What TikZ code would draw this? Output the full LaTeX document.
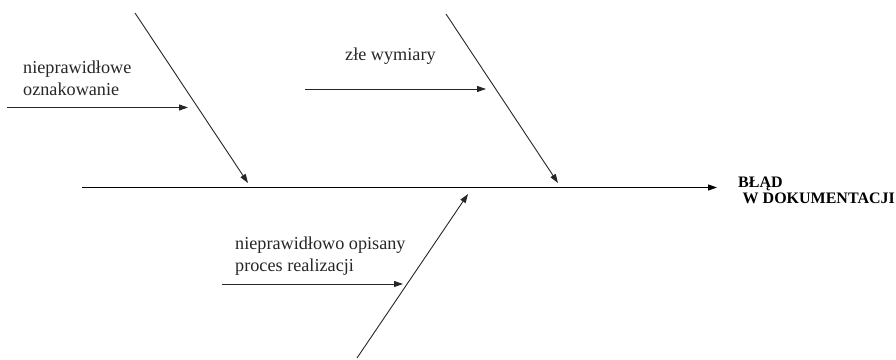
\documentclass[tikz,border=0pt]{standalone}
\usepackage{fontspec}
\setmainfont{Liberation Serif}
\usetikzlibrary{arrows.meta}
\begin{document}
\begin{tikzpicture}[x=1pt,y=-1pt,
  bone/.style={draw=black!85,line width=0.9pt,-{Triangle[length=9pt,width=6pt]}},
  spine/.style={draw=black,line width=1.1pt,-{Triangle[length=9pt,width=6pt]}},
  lbl/.style={anchor=base west,inner sep=0pt,font=\fontsize{18.2}{22}\selectfont,text=black!85,align=left},
  effect/.style={anchor=base west,inner sep=0pt,font=\bfseries\fontsize{16}{16}\selectfont,align=left}]
\useasboundingbox (0,0) rectangle (896,359);
% spine
\coordinate (s0) at (82,187.5);
\coordinate (s1) at (717,187.5);
\draw[spine] (s0) -- (s1);
% bones
\coordinate (b1a) at (135,13);
\coordinate (b1b) at (248,183);
\coordinate (b2a) at (446,14);
\coordinate (b2b) at (558,183);
\coordinate (b3a) at (357,358);
\coordinate (b3b) at (468,194);
\draw[bone] (b1a) -- (b1b);
\draw[bone] (b2a) -- (b2b);
\draw[bone] (b3a) -- (b3b);
% sub arrows
\coordinate (c1a) at (7,107.5);
\coordinate (c1b) at (188,107.5);
\coordinate (c2a) at (305,89);
\coordinate (c2b) at (486,89);
\coordinate (c3a) at (222,284);
\coordinate (c3b) at (403,284);
\draw[bone] (c1a) -- (c1b);
\draw[bone] (c2a) -- (c2b);
\draw[bone] (c3a) -- (c3b);
% labels (base = baseline of last line)
\node[lbl] (t1) at (23,95) {nieprawidłowe\\oznakowanie};
\node[lbl] (t2) at (345,60) {złe wymiary};
\node[lbl] (t3) at (235,271) {nieprawidłowo opisany\\proces realizacji};
\node[effect] (e) at (738,203) {BŁĄD\\\hspace*{4.5pt}W DOKUMENTACJI};
\end{tikzpicture}
\end{document}
